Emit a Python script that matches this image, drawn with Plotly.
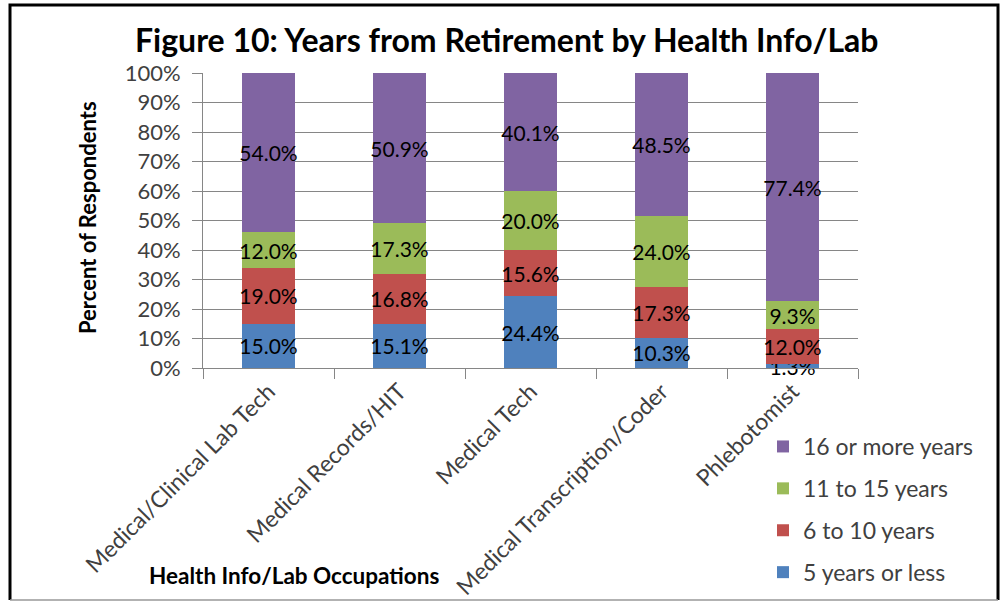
import plotly.graph_objects as go

categories = ["Medical/Clinical Lab Tech", "Medical Records/HIT", "Medical Tech",
              "Medical Transcription/Coder", "Phlebotomist"]
series_names = ["5 years or less", "6 to 10 years", "11 to 15 years", "16 or more years"]
five_or_less = [15.0, 15.1, 24.4, 10.3, 1.3]
six_to_ten = [19.0, 16.8, 15.6, 17.3, 12.0]
eleven_to_fifteen = [12.0, 17.3, 20.0, 24.0, 9.3]
sixteen_plus = [54.0, 50.9, 40.1, 48.5, 77.4]
colors = ["#4F81BD", "#C0504D", "#9BBB59", "#8064A2"]
tick_vals = [0, 10, 20, 30, 40, 50, 60, 70, 80, 90, 100]
tick_text = [f"{v}%" for v in tick_vals]

FONT = "Lato"
fig = go.Figure()
n = len(series_names)
for i, (name, vals, col) in enumerate(zip(series_names,
                           [five_or_less, six_to_ten, eleven_to_fifteen, sixteen_plus],
                           colors)):
    fig.add_trace(go.Bar(
        x=categories, y=vals, name=name, marker_color=col, marker_line_width=0,
        text=[f"{v:.1f}%" for v in vals], textposition="inside", textangle=0,
        insidetextanchor="middle", constraintext="none",
        insidetextfont=dict(family=FONT, size=21, color="#000000"),
        legendgroup=name, legendrank=n - i, cliponaxis=False,
    ))

W, H = 1003, 602
L, R, T, B = 203, 858, 73, 368
pw, ph = R - L, B - T
def px(x): return (x - L) / pw
def py(y): return (B - y) / ph

fig.update_layout(
    width=W, height=H, barmode="stack", barnorm="percent", bargap=0.6,
    margin=dict(l=L, r=W - R, t=T, b=H - B, autoexpand=False),
    paper_bgcolor="white", plot_bgcolor="white",
    font=dict(family=FONT, size=22, color="#404040"),
    showlegend=True,
    legend=dict(traceorder="grouped", x=px(763), y=py(425), xanchor="left", yanchor="top",
                font=dict(family=FONT, size=23, color="#404040"), tracegroupgap=9,
                bgcolor="rgba(0,0,0,0)"),
    xaxis=dict(tickangle=-45, ticks="outside", tickson="boundaries", ticklen=10,
               tickcolor="#868686", showline=True, linecolor="#868686",
               tickfont=dict(family=FONT, size=23, color="#404040")),
    yaxis=dict(range=[0, 100], tickmode="array", tickvals=tick_vals, ticktext=tick_text,
               ticks="outside", ticklen=10, tickcolor="#868686", showline=True,
               linecolor="#868686", showgrid=True, gridcolor="#868686", gridwidth=1,
               ticklabelstandoff=7,
               tickfont=dict(family=FONT, size=22, color="#404040")),
    annotations=[
        dict(text="<b>Figure 10: Years from Retirement by Health Info/Lab</b>",
             xref="paper", yref="paper", x=px(506), y=py(40), xanchor="center", yanchor="middle",
             showarrow=False, font=dict(family=FONT, size=32, color="#000000")),
        dict(text="<b>Percent of Respondents</b>", textangle=-90,
             xref="paper", yref="paper", x=px(87), y=py(218), xanchor="center", yanchor="middle",
             showarrow=False, font=dict(family=FONT, size=22, color="#000000")),
        dict(text="<b>Health Info/Lab Occupations</b>",
             xref="paper", yref="paper", x=px(294), y=py(575), xanchor="center", yanchor="middle",
             showarrow=False, font=dict(family=FONT, size=22.5, color="#000000")),
    ],
    shapes=[
        dict(type="path", xref="paper", yref="paper",
             path=f"M {px(10)} {py(600)} L {px(10)} {py(5)} L {px(998)} {py(5)} L {px(998)} {py(600)}",
             line=dict(color="#000000", width=3)),
        dict(type="line", xref="paper", yref="paper",
             x0=px(10), y0=py(600), x1=px(998), y1=py(600),
             line=dict(color="#999999", width=1.5)),
    ],
)

fig.write_html("out.html", config={"displayModeBar": False},
               post_script="document.body.style.margin='0';")
